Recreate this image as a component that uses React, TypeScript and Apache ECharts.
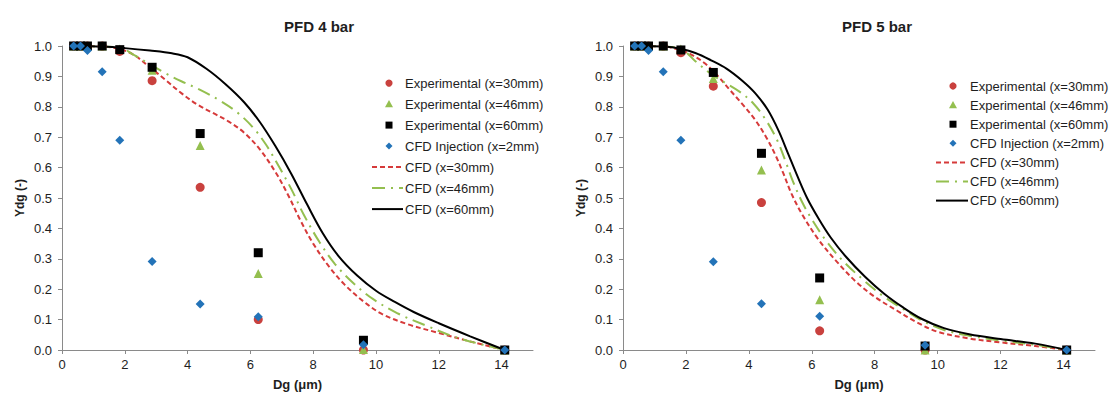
import React, { useEffect, useRef } from "react";
import * as echarts from "echarts";

// ---- data ----
const dg = [0.37, 0.59, 0.81, 1.28, 1.84, 2.87, 4.4, 6.25, 9.6, 14.1];

const exp30_4bar = [1.0, 1.0, 1.0, 1.0, 0.982, 0.886, 0.535, 0.1, 0.0, 0.0];
const exp46_4bar = [1.0, 1.0, 1.0, 1.0, 0.99, 0.92, 0.673, 0.252, 0.002, 0.0];
const exp60_4bar = [1.0, 1.0, 1.0, 1.0, 0.988, 0.93, 0.712, 0.32, 0.032, 0.0];
const inj_4bar = [1.0, 1.0, 0.985, 0.915, 0.69, 0.291, 0.151, 0.109, 0.017, 0.0];

const exp30_5bar = [1.0, 1.0, 1.0, 1.0, 0.978, 0.868, 0.485, 0.063, 0.0, 0.0];
const exp46_5bar = [1.0, 1.0, 1.0, 1.0, 0.99, 0.893, 0.592, 0.165, 0.0, 0.0];
const exp60_5bar = [1.0, 1.0, 1.0, 1.0, 0.987, 0.913, 0.647, 0.237, 0.013, 0.0];
const inj_5bar = [1.0, 1.0, 0.985, 0.915, 0.69, 0.29, 0.152, 0.111, 0.016, 0.0];

const cfd30_4bar: number[][] = [
  [0.37, 1.0], [1.3, 0.998], [1.84, 0.99], [2.3, 0.97], [2.8, 0.93], [3.3, 0.888],
  [3.8, 0.845], [4.3, 0.808], [4.8, 0.78], [5.3, 0.752], [5.8, 0.715], [6.3, 0.66],
  [6.8, 0.585], [7.2, 0.51], [7.6, 0.425], [8.0, 0.35], [8.5, 0.275], [9.0, 0.215],
  [9.6, 0.16], [10.2, 0.118], [11.0, 0.085], [12.0, 0.056], [13.0, 0.028], [14.1, 0.0],
];
const cfd46_4bar: number[][] = [
  [0.37, 1.0], [1.3, 0.998], [1.84, 0.995], [2.3, 0.97], [2.8, 0.94], [3.3, 0.91],
  [3.8, 0.884], [4.4, 0.856], [5.0, 0.822], [5.6, 0.78], [6.1, 0.73], [6.5, 0.675],
  [6.9, 0.605], [7.3, 0.53], [7.7, 0.445], [8.2, 0.355], [8.7, 0.282], [9.3, 0.218],
  [9.9, 0.168], [10.7, 0.12], [11.6, 0.08], [12.6, 0.04], [14.1, 0.0],
];
const cfd60_4bar: number[][] = [
  [0.37, 1.0], [1.3, 0.998], [2.0, 0.993], [2.8, 0.985], [3.5, 0.976], [4.0, 0.963],
  [4.6, 0.925], [5.2, 0.875], [5.8, 0.815], [6.3, 0.75], [6.8, 0.67], [7.3, 0.58],
  [7.8, 0.48], [8.3, 0.385], [8.8, 0.31], [9.4, 0.245], [10.0, 0.195], [10.6, 0.158],
  [11.2, 0.125], [12.0, 0.088], [13.0, 0.045], [14.1, 0.0],
];

const cfd30_5bar: number[][] = [
  [0.37, 1.0], [1.3, 0.998], [1.86, 0.985], [2.2, 0.97], [2.6, 0.943], [3.0, 0.903],
  [3.4, 0.855], [3.8, 0.808], [4.2, 0.757], [4.55, 0.7], [4.85, 0.64], [5.1, 0.58],
  [5.35, 0.515], [5.7, 0.445], [6.2, 0.365], [6.8, 0.29], [7.4, 0.225], [8.0, 0.175],
  [8.7, 0.13], [9.3, 0.093], [10.0, 0.06], [11.0, 0.038], [12.0, 0.025], [13.1, 0.013],
  [14.1, 0.0],
];
const cfd46_5bar: number[][] = [
  [0.37, 1.0], [1.3, 0.998], [1.86, 0.99], [2.3, 0.95], [2.8, 0.908], [3.2, 0.882],
  [3.7, 0.85], [4.15, 0.81], [4.55, 0.755], [4.9, 0.69], [5.15, 0.625], [5.4, 0.555],
  [5.7, 0.485], [6.0, 0.43], [6.45, 0.36], [7.0, 0.292], [7.7, 0.225], [8.3, 0.175],
  [8.9, 0.135], [9.5, 0.097], [10.2, 0.066], [11.0, 0.047], [12.0, 0.031], [13.1, 0.017],
  [14.1, 0.0],
];
const cfd60_5bar: number[][] = [
  [0.37, 1.0], [1.3, 0.998], [1.86, 0.99], [2.3, 0.977], [2.8, 0.953], [3.3, 0.925],
  [3.8, 0.885], [4.2, 0.845], [4.6, 0.79], [4.95, 0.72], [5.25, 0.645], [5.55, 0.57],
  [5.85, 0.5], [6.2, 0.435], [6.6, 0.37], [7.1, 0.305], [7.7, 0.24], [8.3, 0.185],
  [8.9, 0.14], [9.5, 0.102], [10.2, 0.072], [11.0, 0.052], [12.0, 0.036], [13.1, 0.021],
  [14.1, 0.0],
];

const titles = ["PFD 4 bar", "PFD 5 bar"];
const seriesNames = [
  "Experimental (x=30mm)",
  "Experimental (x=46mm)",
  "Experimental (x=60mm)",
  "CFD Injection (x=2mm)",
  "CFD (x=30mm)",
  "CFD (x=46mm)",
  "CFD (x=60mm)",
];

const FONT = "'Liberation Sans', Arial, sans-serif";
const RED = "#c9413e";
const RED_LINE = "#d63a3a";
const GREEN = "#94bf4f";
const BLACK = "#000000";
const BLUE = "#2373b8";
const AXIS = "#8a8a8a";
const TEXT = "#1e1e1e";

const MARKERS = [
  { symbol: "circle", size: 9, color: RED },
  { symbol: "triangle", size: 9, color: GREEN },
  { symbol: "rect", size: 9, color: BLACK },
  { symbol: "diamond", size: 9, color: BLUE },
];
const LINES = [
  { color: RED_LINE, dash: [5, 3] as any },
  { color: GREEN, dash: [13, 6, 2, 6] as any },
  { color: BLACK, dash: null as any },
];

const zip = (xs: number[], ys: number[]) => xs.map((x, i) => [x, ys[i]]);

function buildSeries(g: number, exps: number[][], lines: number[][][]) {
  const out: any[] = [];
  LINES.forEach((d, i) => {
    out.push({
      name: seriesNames[4 + i],
      type: "line",
      xAxisIndex: g,
      yAxisIndex: g,
      data: lines[i],
      symbol: "none",
      smooth: 0.35,
      z: 2,
      itemStyle: { color: d.color },
      lineStyle: { color: d.color, width: 2, type: d.dash ? d.dash : "solid" },
    });
  });
  MARKERS.forEach((d, i) => {
    out.push({
      name: seriesNames[i],
      type: "scatter",
      xAxisIndex: g,
      yAxisIndex: g,
      data: zip(dg, exps[i]),
      symbol: d.symbol,
      symbolSize: d.size,
      z: 3 + i,
      itemStyle: { color: d.color, opacity: 1 },
    });
  });
  return out;
}

function legendGraphic(x0: number, y0: number, pitch: number, lineW: number, markerX: number, textX: number, fs: number) {
  const els: any[] = [];
  for (let k = 0; k < 7; k++) {
    const y = y0 + k * pitch;
    if (k < 4) {
      const c = MARKERS[k].color;
      if (k === 0) els.push({ type: "circle", shape: { cx: markerX, cy: y, r: 3.6 }, style: { fill: c } });
      if (k === 1)
        els.push({
          type: "polygon",
          shape: { points: [[markerX, y - 4], [markerX + 4, y + 3.2], [markerX - 4, y + 3.2]] },
          style: { fill: c },
        });
      if (k === 2) els.push({ type: "rect", shape: { x: markerX - 3.5, y: y - 3.5, width: 7, height: 7 }, style: { fill: c } });
      if (k === 3)
        els.push({
          type: "polygon",
          shape: { points: [[markerX, y - 3.5], [markerX + 3.5, y], [markerX, y + 3.5], [markerX - 3.5, y]] },
          style: { fill: c },
        });
    } else {
      const d = LINES[k - 4];
      els.push({
        type: "line",
        shape: { x1: x0, y1: y, x2: x0 + lineW, y2: y },
        style: { stroke: d.color, lineWidth: 2, lineDash: d.dash || undefined },
      });
    }
    els.push({
      type: "text",
      x: textX,
      y: y,
      style: {
        text: seriesNames[k],
        fill: TEXT,
        font: `${fs}px ${FONT}`,
        verticalAlign: "middle",
        align: "left",
      },
    });
  }
  return { type: "group", children: els };
}

export default function App() {
  const ref = useRef<HTMLDivElement>(null);
  useEffect(() => {
    if (!ref.current) return;
    const chart = echarts.init(ref.current, undefined, { renderer: "svg" });
    const grids = [
      { left: 62, top: 46, width: 471, height: 307 },
      { left: 623, top: 46, width: 472, height: 310 },
    ];
    const option: any = {
      animation: false,
      backgroundColor: "#ffffff",
      textStyle: { fontFamily: FONT },
      title: titles.map((t, i) => ({
        text: t,
        left: i === 0 ? 314 : 872,
        top: 14,
        textAlign: "center",
        textStyle: { fontSize: 15, fontWeight: "bold", color: TEXT, fontFamily: FONT },
      })),
      graphic: [
        legendGraphic(372, 83.1, 21, 31, 389, 405, 13),
        legendGraphic(936, 86, 19.1, 32, 953, 970, 13),
      ],
      grid: grids,
      xAxis: grids.map((_, i) => ({
        type: "value",
        gridIndex: i,
        min: 0,
        max: 15,
        interval: 2,
        name: "Dg (μm)",
        nameLocation: "middle",
        nameGap: 28,
        nameTextStyle: { fontSize: 13, fontWeight: "bold", color: TEXT, fontFamily: FONT },
        axisLine: { show: true, onZero: false, lineStyle: { color: AXIS, width: 1 } },
        axisTick: { show: true, length: 4, lineStyle: { color: AXIS } },
        axisLabel: { showMaxLabel: false, fontSize: 13, color: TEXT, margin: 8, fontFamily: FONT },
        splitLine: { show: false },
      })),
      yAxis: grids.map((_, i) => ({
        type: "value",
        gridIndex: i,
        min: 0,
        max: 1,
        interval: 0.1,
        name: "Ydg (-)",
        nameLocation: "middle",
        nameGap: 36,
        nameTextStyle: { fontSize: 12, fontWeight: "bold", color: TEXT, fontFamily: FONT },
        axisLine: { show: true, onZero: false, lineStyle: { color: AXIS, width: 1 } },
        axisTick: { show: true, length: 4, lineStyle: { color: AXIS } },
        axisLabel: {
          fontSize: 13,
          color: TEXT,
          margin: 10,
          fontFamily: FONT,
          formatter: (v: number) => v.toFixed(1),
        },
        splitLine: { show: false },
      })),
      series: [
        ...buildSeries(
          0,
          [exp30_4bar, exp46_4bar, exp60_4bar, inj_4bar],
          [cfd30_4bar, cfd46_4bar, cfd60_4bar]
        ),
        ...buildSeries(
          1,
          [exp30_5bar, exp46_5bar, exp60_5bar, inj_5bar],
          [cfd30_5bar, cfd46_5bar, cfd60_5bar]
        ),
      ],
    };
    chart.setOption(option);
    return () => chart.dispose();
  }, []);
  return (
    <div
      ref={ref}
      style={{ position: "absolute", left: 0, top: 0, width: 1118, height: 396, background: "#fff" }}
    />
  );
}
